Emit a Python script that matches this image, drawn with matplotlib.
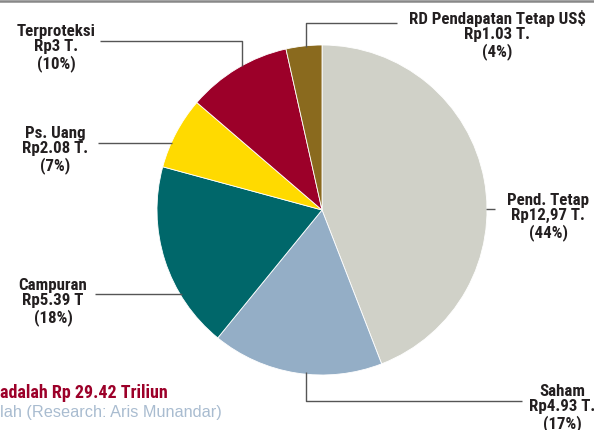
import matplotlib
matplotlib.use("Agg")
import matplotlib.pyplot as plt
from matplotlib.lines import Line2D

COND = ['Roboto Condensed', 'Archivo Narrow', 'Barlow Condensed', 'DejaVu Sans']
plt.rcParams['font.family'] = ['Liberation Sans', 'DejaVu Sans']

categories = ["Pend. Tetap", "Saham", "Campuran", "Ps. Uang", "Terproteksi", "RD Pendapatan Tetap US$"]
values = [12.97, 4.93, 5.39, 2.08, 3.0, 1.03]
value_labels = ["Rp12,97 T.", "Rp4.93 T.", "Rp5.39 T", "Rp2.08 T.", "Rp3 T.", "Rp1.03 T."]
pct_labels = ["(44%)", "(17%)", "(18%)", "(7%)", "(10%)", "(4%)"]
colors = ["#D0D1C8", "#94AEC6", "#00676A", "#FFDA00", "#9C0029", "#8A6A1E"]

W, H = 594, 430
fig = plt.figure(figsize=(W / 100, H / 100), dpi=100)
ax = fig.add_axes([0, 0, 1, 1])

def Y(y):
    return H - y

cx, cy, r = 322, 210, 165
ax.pie(values, colors=colors, startangle=90, counterclock=False,
       center=(cx, Y(cy)), radius=r, frame=True,
       wedgeprops=dict(edgecolor='white', linewidth=0.6))
ax.set_xlim(0, W)
ax.set_ylim(0, H)
ax.axis('off')

lc = "#555555"
lw = 1.0
leaders = [
    [(486, 209), (495, 209)],
    [(306, 372), (306, 401), (522, 401)],
    [(95, 294), (182, 294)],
    [(98, 143), (172, 143)],
    [(100, 41), (242, 41), (242, 66)],
    [(397, 23), (306, 23), (306, 47)],
]
for pts in leaders:
    xs = [p[0] for p in pts]
    ys = [Y(p[1]) for p in pts]
    ax.add_line(Line2D(xs, ys, color=lc, lw=lw, solid_capstyle='butt'))

label_pos = [(548, 217), (562, 408), (53, 302), (55, 150), (56, 48), (497, 35)]
for cat, vl, pl, (x, y) in zip(categories, value_labels, pct_labels, label_pos):
    ax.text(x, Y(y), f"{cat}\n{vl}\n{pl}", ha='center', va='center',
            fontsize=12.2, fontweight='bold', color='#231F20', linespacing=1.08,
            family=COND)

ax.text(0, Y(393), "adalah Rp 29.42 Triliun", ha='left', va='center',
        fontsize=13, fontweight='bold', color='#9C0029', family=COND)
ax.text(0, Y(412), "lah (Research: Aris Munandar)", ha='left', va='center',
        fontsize=11.7, color='#A9BCD0')

ax.add_line(Line2D([0, W], [H - 0.8, H - 0.8], color='#888888', lw=1.8))

fig.savefig("out.png", dpi=100)
